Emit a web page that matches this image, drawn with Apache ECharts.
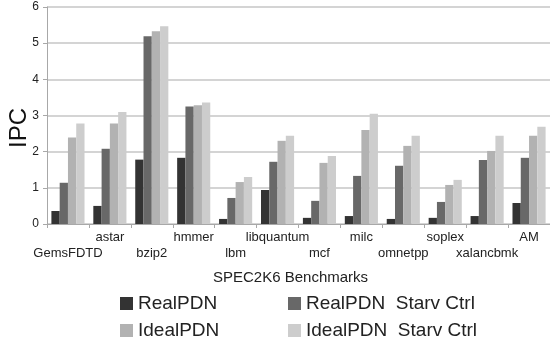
<!DOCTYPE html>
<html>
<head>
<meta charset="utf-8">
<script src="https://cdn.jsdelivr.net/npm/echarts@6/dist/echarts.min.js"></script>
<style>
  html, body { margin: 0; padding: 0; background: #fff; }
  #chart { width: 550px; height: 348px; }
</style>
</head>
<body>
<div id="chart"></div>
<script>
// SPEC2K6 benchmark IPC under the four power-delivery configurations
const benchmarks = ['GemsFDTD', 'astar', 'bzip2', 'hmmer', 'lbm', 'libquantum',
                    'mcf', 'milc', 'omnetpp', 'soplex', 'xalancbmk', 'AM'];
const realPDN          = [0.36, 0.50, 1.78, 1.83, 0.14, 0.94, 0.17, 0.22, 0.14, 0.17, 0.22, 0.58];
const realPDNStarv     = [1.14, 2.08, 5.19, 3.25, 0.72, 1.72, 0.64, 1.33, 1.61, 0.61, 1.77, 1.83];
const idealPDN         = [2.39, 2.78, 5.33, 3.28, 1.16, 2.30, 1.69, 2.60, 2.16, 1.08, 2.02, 2.44];
const idealPDNStarv    = [2.78, 3.10, 5.47, 3.36, 1.30, 2.44, 1.88, 3.05, 2.44, 1.22, 2.44, 2.69];
const yTicks = [0, 1, 2, 3, 4, 5, 6];

const seriesNames = ['RealPDN', 'RealPDN  Starv Ctrl', 'IdealPDN', 'IdealPDN  Starv Ctrl'];
const seriesData = [realPDN, realPDNStarv, idealPDN, idealPDNStarv];
const seriesColors = ['#333333', '#686868', '#b2b2b2', '#cdcdcd'];

const FONT = '"Liberation Sans", Arial, sans-serif';

const chart = echarts.init(document.getElementById('chart'), null, { renderer: 'canvas' });

const legendCommon = {
  orient: 'vertical',
  top: 294,
  padding: 0,
  itemWidth: 13,
  itemHeight: 13,
  itemGap: 8,
  icon: 'rect',
  selectedMode: false,
  textStyle: { fontFamily: FONT, fontSize: 19, color: '#222', lineHeight: 19 }
};

chart.setOption({
  animation: false,
  backgroundColor: '#ffffff',
  textStyle: { fontFamily: FONT },
  grid: { left: 47, right: -1, top: 7, bottom: 124, containLabel: false },
  title: {
    text: 'SPEC2K6 Benchmarks',
    left: 213,
    top: 270,
    padding: 0,
    textStyle: { fontFamily: FONT, fontSize: 15, fontWeight: 'normal', color: '#222' }
  },
  legend: [
    Object.assign({ left: 120, data: [seriesNames[0], seriesNames[2]] }, legendCommon),
    Object.assign({ left: 288, data: [seriesNames[1], seriesNames[3]] }, legendCommon)
  ],
  graphic: [{
    type: 'text',
    x: 19,
    y: 128,
    rotation: Math.PI / 2,
    style: {
      text: 'IPC',
      font: '24px ' + FONT,
      fill: '#111',
      textAlign: 'center',
      textVerticalAlign: 'middle'
    }
  }],
  xAxis: {
    type: 'category',
    data: benchmarks,
    axisLine: { lineStyle: { color: '#a8a8a8', width: 1 } },
    axisTick: { show: true, length: 4, lineStyle: { color: '#a8a8a8' } },
    axisLabel: {
      interval: 0,
      margin: 5,
      fontFamily: FONT,
      fontSize: 13,
      color: '#222',
      lineHeight: 16,
      formatter: (v, i) => (i % 2 === 0 ? '\n' + v : v)
    }
  },
  yAxis: {
    type: 'value',
    min: yTicks[0],
    max: yTicks[yTicks.length - 1],
    interval: 1,
    axisLine: { show: true, lineStyle: { color: '#a8a8a8', width: 1 } },
    axisTick: { show: true, length: 4, lineStyle: { color: '#a8a8a8' } },
    axisLabel: { margin: 8, fontFamily: FONT, fontSize: 12, color: '#222' },
    splitLine: { show: true, lineStyle: { color: '#c6c6c6', width: 1.5 } }
  },
  series: seriesNames.map((name, k) => ({
    name: name,
    type: 'bar',
    data: seriesData[k],
    barGap: '0%',
    barCategoryGap: '21%',
    itemStyle: { color: seriesColors[k] }
  }))
});
</script>
</body>
</html>
